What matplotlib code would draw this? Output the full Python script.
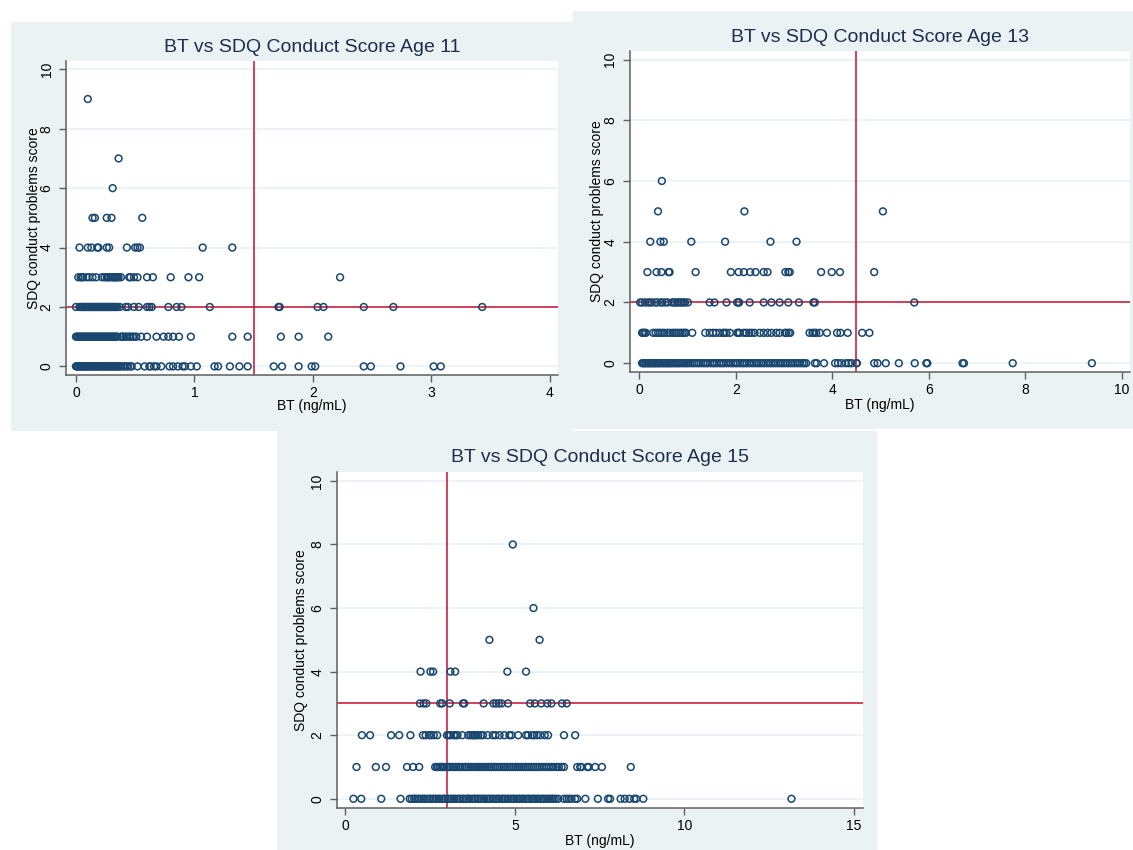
import numpy as np
import matplotlib.pyplot as plt
from matplotlib.patches import Rectangle

plt.rcParams['font.family'] = ['Liberation Sans', 'DejaVu Sans']

# BT (ng/mL) values at each SDQ conduct score, age 11
age11_s0 = [0.00, 0.01, 0.01, 0.02, 0.03, 0.04, 0.04, 0.05, 0.06, 0.07, 0.08, 0.09, 0.09, 0.10,
            0.11, 0.12, 0.13, 0.13, 0.14, 0.15, 0.16, 0.17, 0.18, 0.18, 0.19, 0.20, 0.21, 0.22,
            0.23, 0.24, 0.25, 0.26, 0.27, 0.28, 0.29, 0.30, 0.31, 0.32, 0.33, 0.34, 0.35, 0.36,
            0.37, 0.38, 0.40, 0.41, 0.43, 0.44, 0.46, 0.47, 0.52, 0.58, 0.62, 0.63, 0.66, 0.68,
            0.72, 0.79, 0.82, 0.86, 0.90, 0.92, 0.97, 1.02, 1.17, 1.20, 1.30, 1.38, 1.45, 1.67,
            1.74, 1.88, 1.99, 2.02, 2.43, 2.49, 2.74, 3.02, 3.08]
age11_s1 = [0.00, 0.01, 0.02, 0.03, 0.04, 0.05, 0.06, 0.07, 0.08, 0.09, 0.10, 0.11, 0.12, 0.13,
            0.14, 0.15, 0.16, 0.17, 0.18, 0.19, 0.20, 0.21, 0.22, 0.23, 0.24, 0.25, 0.26, 0.27,
            0.28, 0.29, 0.30, 0.31, 0.32, 0.33, 0.34, 0.35, 0.38, 0.39, 0.40, 0.42, 0.43, 0.45,
            0.46, 0.48, 0.49, 0.51, 0.55, 0.60, 0.68, 0.74, 0.78, 0.82, 0.87, 0.97, 1.32, 1.45,
            1.73, 1.88, 2.13]
age11_s2 = [0.00, 0.03, 0.04, 0.05, 0.06, 0.07, 0.08, 0.09, 0.10, 0.11, 0.12, 0.13, 0.14, 0.15,
            0.16, 0.17, 0.18, 0.19, 0.20, 0.21, 0.22, 0.23, 0.24, 0.25, 0.26, 0.27, 0.28, 0.29,
            0.30, 0.31, 0.32, 0.33, 0.34, 0.35, 0.37, 0.42, 0.44, 0.49, 0.53, 0.60, 0.62, 0.64,
            0.78, 0.85, 0.89, 1.13, 1.71, 1.72, 2.04, 2.09, 2.43, 2.68, 3.43]
age11_s3 = [0.02, 0.04, 0.05, 0.06, 0.09, 0.11, 0.14, 0.17, 0.22, 0.24, 0.26, 0.27, 0.28, 0.30,
            0.31, 0.32, 0.33, 0.34, 0.35, 0.36, 0.38, 0.45, 0.46, 0.49, 0.52, 0.60, 0.65, 0.80,
            0.95, 1.04, 2.23]
age11_s4 = [0.03, 0.10, 0.13, 0.18, 0.19, 0.26, 0.28, 0.43, 0.50, 0.52, 0.54, 1.07, 1.32]
age11_s5 = [0.14, 0.16, 0.26, 0.30, 0.56]
age11_s6 = [0.31]
age11_s7 = [0.36]
age11_s9 = [0.10]

# age 13
age13_s0 = [0.06, 0.08, 0.10, 0.13, 0.15, 0.18, 0.20, 0.23, 0.25, 0.28, 0.31, 0.33, 0.36, 0.39,
            0.41, 0.44, 0.47, 0.50, 0.53, 0.56, 0.59, 0.62, 0.65, 0.68, 0.71, 0.75, 0.78, 0.82,
            0.85, 0.89, 0.93, 0.97, 1.01, 1.05, 1.10, 1.14, 1.19, 1.23, 1.28, 1.33, 1.38, 1.42,
            1.47, 1.52, 1.56, 1.61, 1.66, 1.70, 1.75, 1.80, 1.85, 1.90, 1.95, 2.00, 2.04, 2.09,
            2.14, 2.18, 2.23, 2.28, 2.33, 2.38, 2.43, 2.48, 2.53, 2.58, 2.63, 2.68, 2.73, 2.78,
            2.83, 2.88, 2.93, 2.98, 3.03, 3.08, 3.13, 3.18, 3.23, 3.28, 3.33, 3.38, 3.42, 3.46,
            3.64, 3.68, 3.83, 4.06, 4.12, 4.19, 4.28, 4.34, 4.40, 4.50, 4.51, 4.87, 4.94, 5.11,
            5.38, 5.71, 5.95, 5.97, 6.70, 6.73, 7.74, 9.38]
age13_s1 = [0.06, 0.08, 0.11, 0.14, 0.29, 0.34, 0.39, 0.43, 0.47, 0.52, 0.58, 0.63, 0.69, 0.73,
            0.77, 0.81, 0.86, 0.90, 0.94, 0.97, 1.10, 1.37, 1.46, 1.53, 1.59, 1.67, 1.74, 1.77,
            1.81, 1.88, 2.03, 2.06, 2.08, 2.17, 2.22, 2.28, 2.33, 2.39, 2.50, 2.58, 2.66, 2.74,
            2.84, 2.91, 3.02, 3.05, 3.10, 3.13, 3.53, 3.59, 3.63, 3.67, 3.74, 3.89, 4.10, 4.17,
            4.32, 4.62, 4.77]
age13_s2 = [0.02, 0.06, 0.12, 0.18, 0.22, 0.26, 0.33, 0.37, 0.44, 0.48, 0.54, 0.59, 0.68, 0.72,
            0.74, 0.79, 0.81, 0.86, 0.88, 0.92, 0.95, 1.01, 1.46, 1.56, 1.81, 2.03, 2.06, 2.07,
            2.29, 2.58, 2.74, 2.91, 3.09, 3.31, 3.61, 3.64, 5.70]
age13_s3 = [0.17, 0.36, 0.46, 0.61, 0.63, 1.17, 1.90, 2.06, 2.17, 2.30, 2.41, 2.58, 2.66, 3.03,
            3.09, 3.12, 3.77, 3.99, 4.16, 4.87]
age13_s4 = [0.23, 0.44, 0.51, 1.08, 1.78, 2.72, 3.26]
age13_s5 = [0.39, 2.18, 5.05]
age13_s6 = [0.47]

# age 15
age15_s0 = [0.24, 0.47, 1.06, 1.63, 1.90, 1.96, 2.03, 2.07, 2.14, 2.18, 2.25, 2.31, 2.34, 2.41,
            2.47, 2.51, 2.58, 2.62, 2.69, 2.75, 2.78, 2.85, 2.91, 2.95, 3.02, 3.06, 3.13, 3.19,
            3.22, 3.29, 3.35, 3.39, 3.46, 3.50, 3.57, 3.63, 3.66, 3.73, 3.79, 3.83, 3.90, 3.94,
            4.01, 4.07, 4.10, 4.17, 4.23, 4.27, 4.34, 4.38, 4.45, 4.51, 4.54, 4.61, 4.67, 4.71,
            4.78, 4.82, 4.89, 4.95, 4.98, 5.05, 5.11, 5.15, 5.22, 5.26, 5.33, 5.39, 5.42, 5.49,
            5.55, 5.59, 5.66, 5.70, 5.77, 5.83, 5.86, 5.93, 5.99, 6.03, 6.10, 6.15, 6.21, 6.28,
            6.45, 6.53, 6.59, 6.67, 6.78, 6.84, 7.08, 7.45, 7.75, 7.81, 8.12, 8.24, 8.38, 8.52,
            8.58, 8.79, 13.16]
age15_s1 = [0.33, 0.90, 1.20, 1.82, 2.00, 2.18, 2.65, 2.70, 2.74, 2.79, 2.84, 2.88, 2.92, 3.00,
            3.05, 3.10, 3.16, 3.21, 3.27, 3.33, 3.38, 3.45, 3.52, 3.57, 3.63, 3.69, 3.74, 3.80,
            3.86, 3.91, 3.97, 4.03, 4.09, 4.14, 4.20, 4.26, 4.31, 4.37, 4.43, 4.49, 4.55, 4.61,
            4.67, 4.72, 4.78, 4.84, 4.90, 4.96, 5.02, 5.08, 5.13, 5.19, 5.25, 5.31, 5.37, 5.43,
            5.49, 5.55, 5.61, 5.67, 5.73, 5.80, 5.86, 5.93, 6.00, 6.07, 6.14, 6.22, 6.30, 6.38,
            6.45, 6.84, 6.93, 6.96, 7.14, 7.18, 7.37, 7.57, 8.42]
age15_s2 = [0.49, 0.73, 1.35, 1.59, 1.92, 2.29, 2.37, 2.47, 2.53, 2.61, 2.71, 3.00, 3.05, 3.10,
            3.20, 3.25, 3.31, 3.45, 3.63, 3.69, 3.75, 3.79, 3.82, 3.87, 3.92, 4.00, 4.06, 4.20,
            4.35, 4.43, 4.55, 4.69, 4.84, 4.90, 5.10, 5.33, 5.39, 5.51, 5.57, 5.65, 5.75, 5.88,
            5.98, 6.45, 6.78]
age15_s3 = [2.20, 2.31, 2.39, 2.80, 2.86, 3.08, 3.47, 3.51, 4.08, 4.37, 4.45, 4.53, 4.61, 4.80,
            5.45, 5.59, 5.78, 5.96, 6.08, 6.39, 6.53]
age15_s4 = [2.22, 2.51, 2.59, 3.10, 3.24, 4.78, 5.33]
age15_s5 = [4.25, 5.73]
age15_s6 = [5.55]
age15_s8 = [4.94]

W, H = 1133, 850
BG = '#eaf2f3'
NAVY = '#1a476f'
RED = '#c8102e'
TITLE = '#1c2d4f'

fig = plt.figure(figsize=(W / 100, H / 100), dpi=100, facecolor='white')


def px_rect(l, t, r, b):
    return (l / W, 1 - b / H, (r - l) / W, (b - t) / H)


def add_bg(l, t, r, b):
    x, y, w, h = px_rect(l, t, r, b)
    fig.patches.append(Rectangle((x, y), w, h, transform=fig.transFigure,
                                 facecolor=BG, edgecolor='none', zorder=-5))


def panel(box, rows, xlim, xticks, vline, hline, title, title_y, xlabel_y, ylabel_x):
    l, t, r, b = box
    ax = fig.add_axes(px_rect(l, t, r, b))
    ax.set_zorder(2)
    ax.set_facecolor('white')
    for score, bt in rows:
        ax.scatter(bt, np.full(len(bt), score), s=24, facecolors='none',
                   edgecolors=NAVY, linewidths=1.1, zorder=3)
    ax.axvline(vline, color=RED, lw=1.1, zorder=2)
    ax.axhline(hline, color=RED, lw=1.1, zorder=2)
    ax.set_xlim(*xlim)
    ax.set_ylim(-0.29, 10.28)
    ax.set_xticks(xticks)
    ax.set_yticks([0, 2, 4, 6, 8, 10])
    ax.yaxis.grid(True, color=BG, lw=1.2)
    ax.set_axisbelow(True)
    for side in ('top', 'right'):
        ax.spines[side].set_visible(False)
    for side in ('left', 'bottom'):
        ax.spines[side].set_color('#5f5f5f')
        ax.spines[side].set_linewidth(1.1)
    ax.tick_params(length=5, width=1.0, color='#5f5f5f', labelsize=10, pad=4)
    ax.tick_params(axis='x', pad=3)
    for lab in ax.get_yticklabels():
        lab.set_rotation(90)
        lab.set_va('center')
    cx = (l + r) / 2
    fig.text(cx / W, 1 - title_y / H, title, ha='center', va='center',
             fontsize=14, color=TITLE)
    fig.text(cx / W, 1 - xlabel_y / H, 'BT (ng/mL)', ha='center', va='center', fontsize=10)
    fig.text(ylabel_x / W, 1 - ((t + b) / 2) / H, 'SDQ conduct problems score',
             ha='center', va='center', rotation=90, fontsize=10)
    return ax


add_bg(11, 22, 573, 431)
add_bg(573, 11, 1133, 429)
add_bg(277, 431, 877, 850)

panel((66, 61, 558, 375),
      [(0, age11_s0), (1, age11_s1), (2, age11_s2), (3, age11_s3), (4, age11_s4),
       (5, age11_s5), (6, age11_s6), (7, age11_s7), (9, age11_s9)],
      (-0.084, 4.07), [0, 1, 2, 3, 4], 1.5, 2,
      'BT vs SDQ Conduct Score Age 11', 47, 406, 34)

panel((630, 51, 1130, 372),
      [(0, age13_s0), (1, age13_s1), (2, age13_s2), (3, age13_s3), (4, age13_s4),
       (5, age13_s5), (6, age13_s6)],
      (-0.19, 10.17), [0, 2, 4, 6, 8, 10], 4.5, 2,
      'BT vs SDQ Conduct Score Age 13', 37, 405, 597)

panel((337, 472, 863, 808),
      [(0, age15_s0), (1, age15_s1), (2, age15_s2), (3, age15_s3), (4, age15_s4),
       (5, age15_s5), (6, age15_s6), (8, age15_s8)],
      (-0.245, 15.27), [0, 5, 10, 15], 3, 3,
      'BT vs SDQ Conduct Score Age 15', 458, 841, 301)

fig.savefig('out.png', dpi=100, facecolor='white')
